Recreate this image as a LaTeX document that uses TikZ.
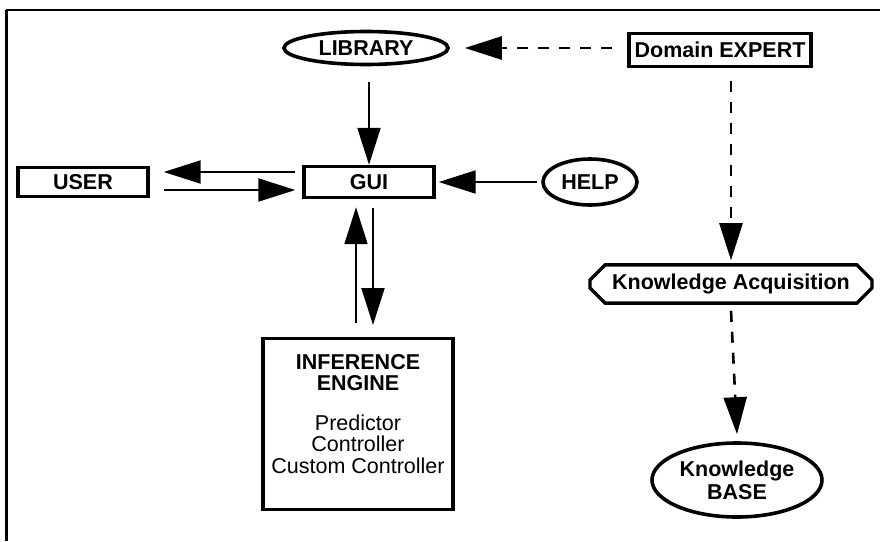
\documentclass[tikz,border=0pt]{standalone}
\usepackage{fontspec}
\setmainfont{Liberation Sans}
\usetikzlibrary{arrows.meta,shapes.geometric,shapes.misc}
\begin{document}
\begin{tikzpicture}[x=1pt,y=-1pt,
  lbl/.style={font=\fontsize{21.5}{23}\selectfont\bfseries},
  box/.style={draw, line width=3.4pt, inner sep=0pt, lbl},
  oval/.style={draw, ellipse, line width=3.6pt, inner sep=0pt, lbl},
  arr/.style={line width=2pt, -{Triangle[length=37pt,width=23pt]}},
  darr/.style={line width=2.6pt, dash pattern=on 11pt off 10pt, -{Triangle[length=37pt,width=23pt]}},
]
\useasboundingbox (0,0) rectangle (880,541);
% frame
\coordinate (ftr) at (880,9.5);
\coordinate (ftl) at (6,9.5);
\coordinate (fbl) at (6,541);
\draw[line width=2pt] (ftr) -- (ftl);
\draw[line width=3pt] (ftl) -- (fbl);
% nodes
\node[oval, minimum width=164pt, minimum height=33pt] (lib) at (366,48) {LIBRARY};
\node[box, minimum width=182pt, minimum height=33pt] (de) at (720,50) {Domain EXPERT};
\node[box, minimum width=130pt, minimum height=29pt] (user) at (83,182) {USER};
\node[box, minimum width=130pt, minimum height=31pt] (gui) at (369,182) {GUI};
\node[oval, minimum width=94pt, minimum height=46pt] (help) at (590,182) {HELP};
\node[draw, chamfered rectangle, chamfered rectangle xsep=6pt, chamfered rectangle ysep=9pt,
      line width=3.4pt, inner sep=0pt, lbl, minimum width=282pt, minimum height=38pt] (ka) at (731,284) {Knowledge Acquisition};
\node[draw, line width=3.4pt, minimum width=190pt, minimum height=171pt, anchor=north] (ie) at (358,337) {};
\node[anchor=north, align=center, inner sep=0pt, font=\fontsize{21.5}{21.5}\selectfont] (ietext) at ([yshift=-17pt]ie.north)
  {{\bfseries INFERENCE}\\{\bfseries ENGINE}\\[18pt]Predictor\\Controller\\Custom Controller};
\node[oval, minimum width=170pt, minimum height=74pt, align=center, font=\fontsize{21.5}{23}\selectfont\bfseries] (kb) at (737,480) {Knowledge\\BASE};
% connectors
\draw[arr] ([yshift=-16pt]lib.south -| gui.north) -- (gui.north);
\draw[arr] ([xshift=-7pt,yshift=10pt]gui.west) -- ([xshift=14pt,yshift=10pt]user.east);
\draw[arr] ([xshift=14pt,yshift=-8pt]user.east) -- ([xshift=-7pt,yshift=-8pt]gui.west);
\draw[arr] ([xshift=-4pt]help.west) -- ([xshift=3pt]gui.east);
\draw[arr] ([xshift=4pt,yshift=-9pt]gui.south) -- ([xshift=15pt,yshift=12pt]ie.north);
\draw[arr] ([xshift=-2pt,yshift=14pt]ie.north) -- ([xshift=-13pt,yshift=-8pt]gui.south);
\draw[darr] ([xshift=-15pt]de.west |- lib.east) -- ([xshift=15pt]lib.east);
\draw[darr] ([yshift=-13pt]de.south -| ka.north) -- ([yshift=3pt]ka.north);
\draw[darr] ([yshift=-6pt]ka.south) -- ([yshift=7pt]kb.north);
\end{tikzpicture}
\end{document}
